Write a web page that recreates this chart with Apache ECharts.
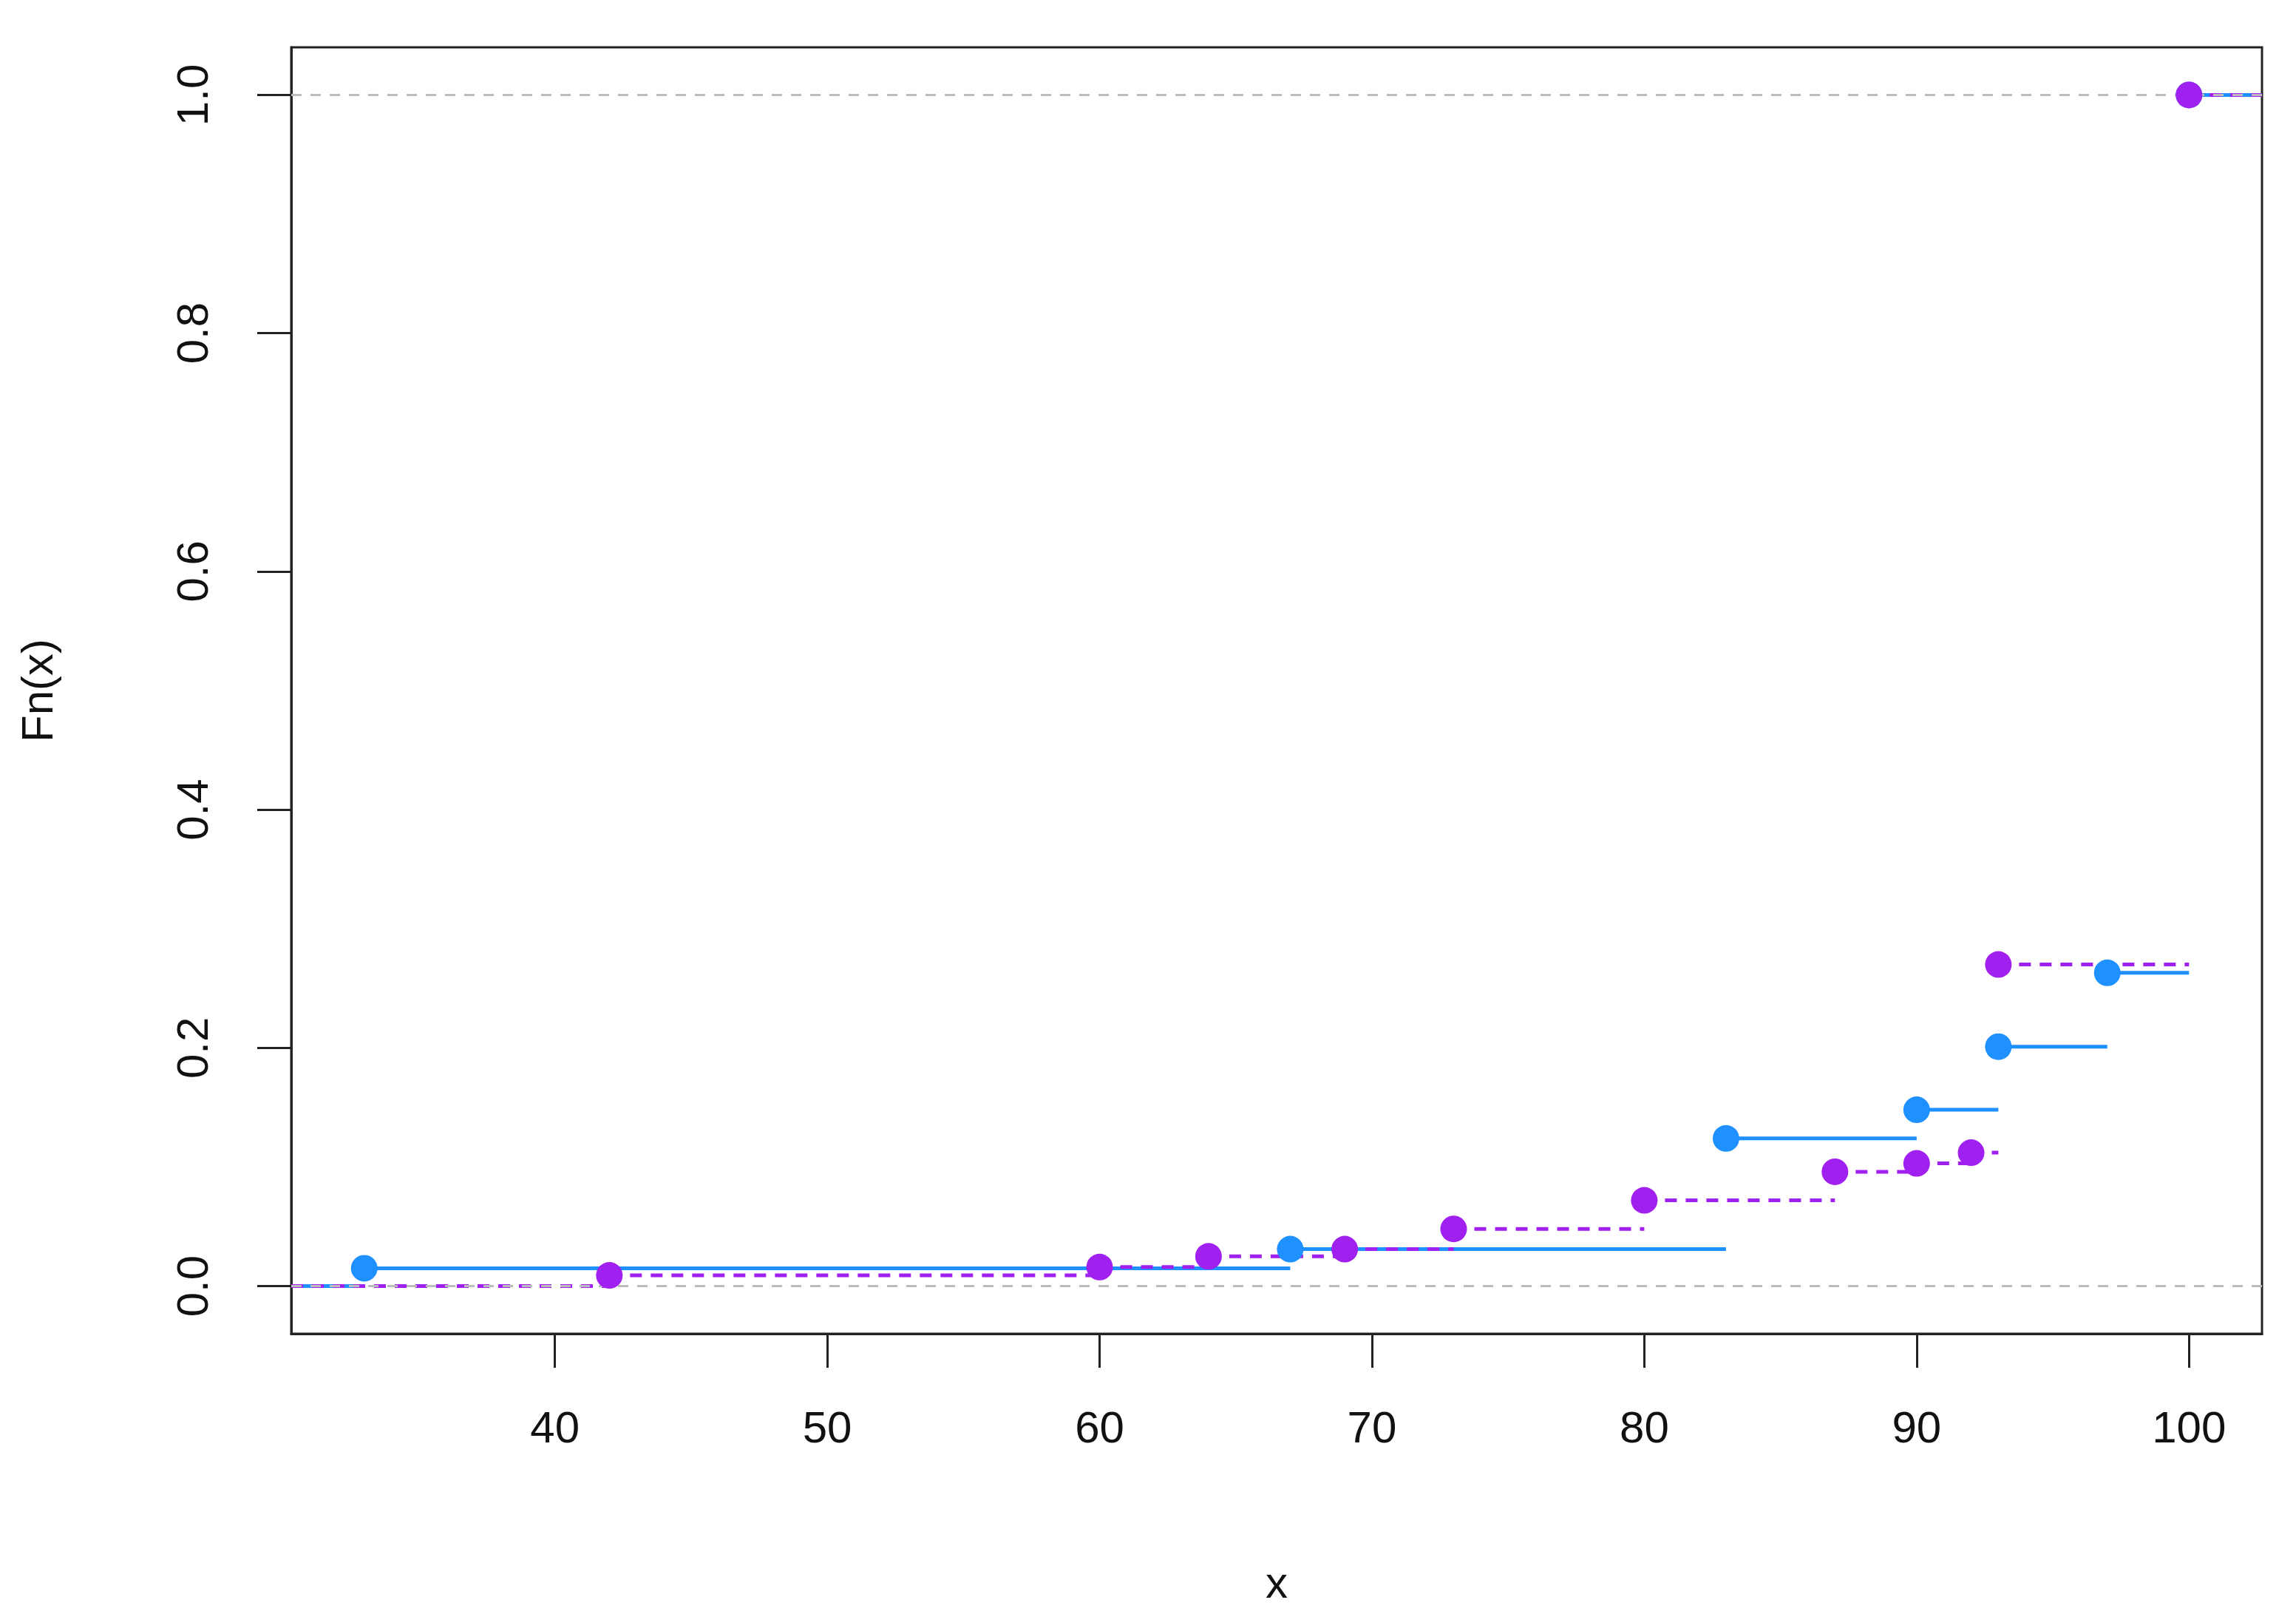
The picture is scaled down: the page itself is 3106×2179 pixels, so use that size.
<!DOCTYPE html>
<html>
<head>
<meta charset="utf-8">
<script src="https://cdn.jsdelivr.net/npm/echarts@6/dist/echarts.min.js"></script>
<style>html,body{margin:0;background:#fff}#c{width:3106px;height:2179px}</style>
</head>
<body>
<div id="c"></div>
<script>
// two empirical CDFs
var blueX = [33, 67, 83, 90, 93, 97, 100];
var blueY = [0.015, 0.031, 0.124, 0.148, 0.201, 0.263, 1.0];
var purpleX = [42, 60, 64, 69, 73, 80, 87, 90, 92, 93, 100];
var purpleY = [0.009, 0.016, 0.025, 0.031, 0.048, 0.072, 0.096, 0.103, 0.112, 0.270, 1.0];
var xTicks = [40, 50, 60, 70, 80, 90, 100];
var yTicks = [0, 0.2, 0.4, 0.6, 0.8, 1.0];

var xMin = 30.32, xMax = 102.68;

// horizontal step segments, broken by gaps
function steps(xs, ys) {
    var out = [[xMin, 0], [xs[0], 0], ['-', '-']];
    for (var i = 0; i < xs.length; i++) {
        var x1 = i + 1 < xs.length ? xs[i + 1] : xMax;
        out.push([xs[i], ys[i]], [x1, ys[i]], ['-', '-']);
    }
    return out;
}
function pts(xs, ys) {
    return xs.map(function(x, i) { return [x, ys[i]]; });
}

var font = "Liberation Sans";
var chart = echarts.init(document.getElementById('c'));
chart.setOption({
    animation: false,
    grid: { left: 394, right: 46, top: 64, bottom: 375, show: true, borderColor: '#222', borderWidth: 3, backgroundColor: 'transparent' },
    xAxis: {
        type: 'value', min: xMin, max: xMax, position: 'bottom',
        name: 'x', nameLocation: 'middle', nameGap: 310,
        nameTextStyle: { fontFamily: font, fontSize: 60, color: '#111' },
        axisLine: { show: true, onZero: false, lineStyle: { color: '#222', width: 3 } },
        splitLine: { show: false },
        axisTick: { show: true, length: 46, inside: false, customValues: xTicks, lineStyle: { color: '#222', width: 3 } },
        axisLabel: { customValues: xTicks, fontFamily: font, fontSize: 60, color: '#111', margin: 100 }
    },
    yAxis: {
        type: 'value', min: -0.04, max: 1.04,
        name: 'Fn(x)', nameLocation: 'middle', nameGap: 310, nameRotate: 90,
        nameTextStyle: { fontFamily: font, fontSize: 60, color: '#111' },
        axisLine: { show: true, onZero: false, lineStyle: { color: '#222', width: 3 } },
        splitLine: { show: false },
        axisTick: { show: true, length: 46, inside: false, customValues: yTicks, lineStyle: { color: '#222', width: 3 } },
        axisLabel: { customValues: yTicks, rotate: 90, fontFamily: font, fontSize: 60, color: '#111', margin: 100,
            formatter: function(v) { return v.toFixed(1); } }
    },
    series: [{
        type: 'line', data: steps(purpleX, purpleY), showSymbol: false, connectNulls: false,
        lineStyle: { color: '#A020F0', width: 5, type: [16, 12] }, z: 3,
        markLine: {
            silent: true, symbol: 'none', label: { show: false },
            lineStyle: { color: '#bbb', type: [14, 12], width: 3 },
            data: [{ yAxis: 0 }, { yAxis: 1 }]
        }
    }, {
        type: 'line', data: steps(blueX, blueY), showSymbol: false, connectNulls: false,
        lineStyle: { color: '#1E90FF', width: 5 }, z: 2
    }, {
        type: 'scatter', data: pts(blueX, blueY), symbolSize: 36,
        itemStyle: { color: '#1E90FF', opacity: 1 }, z: 4
    }, {
        type: 'scatter', data: pts(purpleX, purpleY), symbolSize: 36,
        itemStyle: { color: '#A020F0', opacity: 1 }, z: 5
    }]
});
</script>
</body>
</html>
